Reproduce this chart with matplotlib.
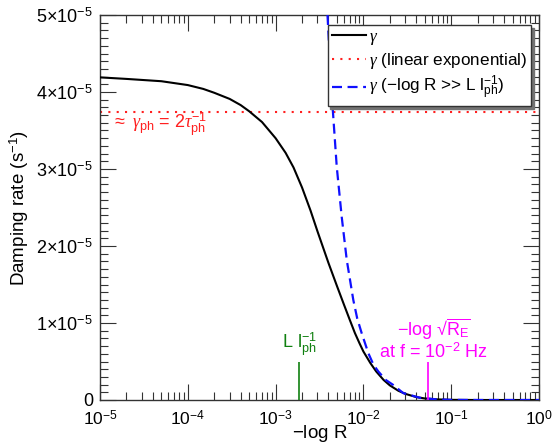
import matplotlib
matplotlib.use('Agg')
import matplotlib.pyplot as plt
from matplotlib.ticker import LogLocator, MultipleLocator, FixedLocator, FixedFormatter, NullFormatter

plt.rcParams['font.family'] = ['Liberation Sans', 'DejaVu Sans']
plt.rcParams['mathtext.fontset'] = 'custom'
plt.rcParams['mathtext.rm'] = 'Liberation Sans'
plt.rcParams['mathtext.sf'] = 'Liberation Sans'
plt.rcParams['mathtext.it'] = 'Liberation Serif:italic'
plt.rcParams['mathtext.bf'] = 'Liberation Sans:bold'

# ---- data ----
gamma_x = [1e-5, 2e-5, 5e-5, 1e-4, 1.5e-4, 2e-4, 3e-4, 4e-4, 5e-4, 7e-4,
           1e-3, 1.3e-3, 1.6e-3, 2e-3, 2.5e-3, 3e-3, 3.5e-3, 4e-3, 5e-3, 6e-3,
           7e-3, 8e-3, 9e-3, 1e-2, 1.2e-2, 1.4e-2, 1.7e-2, 2e-2, 2.5e-2, 3e-2,
           4e-2, 5e-2, 7e-2, 1e-1, 2e-1, 1.0]
gamma_y = [4.19, 4.17, 4.14, 4.09, 4.04, 3.99, 3.91, 3.83, 3.75, 3.61,
           3.40, 3.21, 3.02, 2.76, 2.46, 2.19, 1.97, 1.78, 1.48, 1.24,
           1.04, 0.87, 0.74, 0.63, 0.48, 0.37, 0.26, 0.19, 0.12, 0.08,
           0.038, 0.02, 0.008, 0.002, 0.0, 0.0]

lin_level = 3.74   # gamma (linear exponential), units of 1e-5

asym_x = [3.9e-3, 4.2e-3, 4.43e-3, 4.97e-3, 5.66e-3, 6.46e-3, 7.67e-3, 8.5e-3,
          9.57e-3, 1.14e-2, 1.3e-2, 1.48e-2, 1.8e-2, 2.19e-2, 2.84e-2, 4.42e-2,
          6.84e-2, 1e-1, 2e-1, 1.0]
asym_y = [5.0, 4.3, 3.85, 3.03, 2.38, 1.82, 1.30, 1.06,
          0.866, 0.606, 0.46, 0.37, 0.26, 0.195, 0.09, 0.028,
          0.008, 0.002, 0.0, 0.0]

x_lph = 1.85e-3     # L l_ph^-1 marker
x_RE = 0.0545       # -log sqrt(R_E) marker
marker_h = 0.5      # marker height, units of 1e-5

xtick_vals = [1e-5, 1e-4, 1e-3, 1e-2, 1e-1, 1e0]
xtick_labels = [r'$10^{-5}$', r'$10^{-4}$', r'$10^{-3}$', r'$10^{-2}$', r'$10^{-1}$', r'$10^{0}$']
ytick_vals = [0, 1e-5, 2e-5, 3e-5, 4e-5, 5e-5]
ytick_labels = ['0', r'$1{\times}10^{-5}$', r'$2{\times}10^{-5}$', r'$3{\times}10^{-5}$',
                r'$4{\times}10^{-5}$', r'$5{\times}10^{-5}$']

scale = 1e-5

fig = plt.figure(figsize=(5.52, 4.47), dpi=100)
W, H = 552, 447
L, R, T, B = 100, 539, 15, 400
ax = fig.add_axes([L / W, 1 - B / H, (R - L) / W, (B - T) / H])

ax.plot(gamma_x, [v * scale for v in gamma_y], color='black', lw=1.5,
        label=r'$\gamma$', zorder=3)
ax.axhline(lin_level * scale, color='#ff2020', lw=1.5, ls=(0, (1, 3)),
           label=r'$\gamma$ (linear exponential)', zorder=2)
ax.plot(asym_x, [v * scale for v in asym_y], color='#1010ff', lw=1.6,
        ls=(0, (4.5, 2.5)),
        label=r'$\gamma$ ($-$log R >> L l$_{\rm ph}^{-1}$)', zorder=4)

ax.vlines([x_lph], 0, marker_h * scale, color='#108010', lw=1.2, zorder=5)
ax.vlines([x_RE], 0, marker_h * scale, color='#ff00ff', lw=1.2, zorder=5)

ax.text(x_lph, 0.55 * scale, r'L l$_{\rm ph}^{-1}$', color='#108010',
        ha='center', va='bottom', fontsize=13)
ax.text(0.063, 0.49 * scale,
        r'$-$log √$\overline{\mathrm{R}_{\mathrm{E}}}$' + '\n' + r'at f = 10$^{-2}$ Hz',
        color='#ff00ff', ha='center', va='bottom', fontsize=13,
        multialignment='center', linespacing=1.05)
ax.text(1.37e-5, 3.52 * scale, r'$\approx$ $\gamma_{\rm ph}$ = 2$\tau_{\rm ph}^{-1}$',
        color='#ff2020', ha='left', va='baseline', fontsize=13)

ax.set_xscale('log')
ax.set_xlim(1e-5, 1.0)
ax.set_ylim(0, 5e-5)

ax.xaxis.set_major_locator(FixedLocator(xtick_vals))
ax.xaxis.set_major_formatter(FixedFormatter(xtick_labels))
ax.xaxis.set_minor_locator(LogLocator(base=10, subs=range(2, 10), numticks=20))
ax.xaxis.set_minor_formatter(NullFormatter())
ax.yaxis.set_major_locator(FixedLocator(ytick_vals))
ax.yaxis.set_major_formatter(FixedFormatter(ytick_labels))
ax.yaxis.set_minor_locator(MultipleLocator(1e-6))

ax.tick_params(which='both', direction='in', top=True, right=True,
               color='#333333', width=0.8)
ax.tick_params(which='major', length=11.5)
ax.tick_params(axis='x', which='major', pad=6.5, labelsize=12.5)
ax.tick_params(axis='y', which='major', pad=5, labelsize=13)
ax.tick_params(which='minor', length=5.8)
for s in ax.spines.values():
    s.set_linewidth(1.0)
    s.set_color('#333333')

ax.set_xlabel(r'$-$log R', fontsize=13.5)
ax.xaxis.set_label_coords(0.5, -0.06)
ax.set_ylabel(r'Damping rate (s$^{-1}$)', fontsize=13.5)
ax.yaxis.set_label_coords(-0.158, 0.5)

leg = ax.legend(loc='upper right', bbox_to_anchor=(531 / W, 1 - 25 / H),
                bbox_transform=fig.transFigure, borderaxespad=0,
                fontsize=12.3, fancybox=False, shadow={'color': '0.45', 'alpha': 1.0},
                framealpha=1, edgecolor='#333333', handlelength=2.0,
                handletextpad=0.15, borderpad=0.25, labelspacing=0.2)
leg.get_frame().set_linewidth(1.0)
leg.set_zorder(10)

fig.savefig('out.png', dpi=100)
